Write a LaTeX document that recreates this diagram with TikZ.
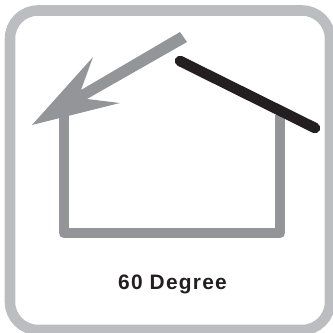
\documentclass[tikz,border=0pt]{standalone}
\usepackage{fontspec}
\setmainfont{Liberation Sans}[LetterSpace=6]
\definecolor{framegray}{HTML}{BBBDC0}
\definecolor{housegray}{HTML}{939598}
\definecolor{roofblack}{HTML}{231F20}

\begin{document}
\begin{tikzpicture}[x=0.02cm,y=-0.02cm]
\useasboundingbox (0,0) rectangle (332,333);
\draw[framegray,line width=6pt,rounded corners=0.56cm] (10,10.5) rectangle (330,330);
\draw[housegray,line width=5.8pt,line join=round] (64,115)--(64,233)--(280,233)--(280,115);
\fill[housegray] (180,32)--(81,90)--(93,57)--(32,125)--(120,103)--(87,99)--(187,42)--cycle;
\draw[roofblack,line width=6pt,line cap=round] (180,61)--(315,128);
\node[roofblack,font=\fontsize{11.9pt}{14pt}\selectfont\bfseries,anchor=base] (label) at (172.5,289) {60 Degree};
\end{tikzpicture}
\end{document}
